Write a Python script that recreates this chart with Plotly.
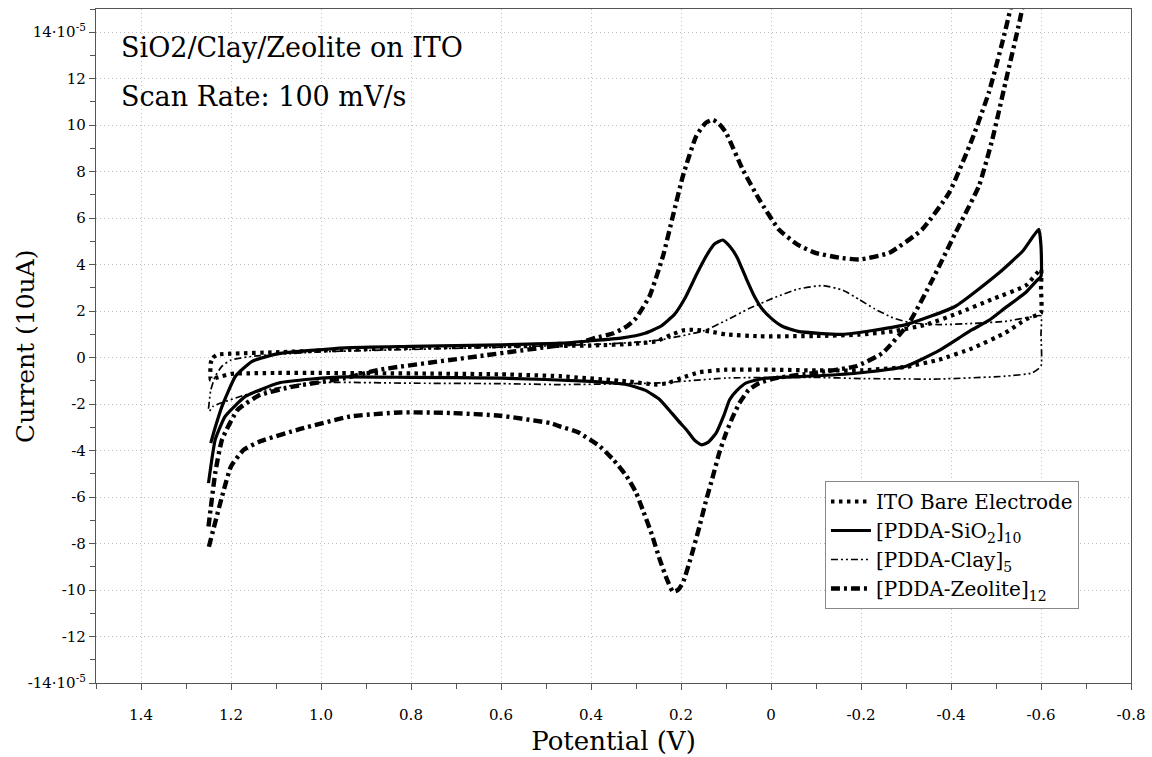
import plotly.graph_objects as go

# ---- data (potential in V, current in units of 1e-5 A) ----
ito_v = [1.245, 1.24, 1.23, 1.2, 1.1, 0.946, 0.8, 0.6, 0.4, 0.3, 0.255, 0.22, 0.195, 0.174, 0.137, 0.1, 0.026,
         -0.1, -0.196, -0.27, -0.345, -0.418, -0.49, -0.566, -0.6,
         -0.6, -0.6, -0.58, -0.566, -0.52, -0.447, -0.373, -0.3, -0.2, -0.1, 0.0, 0.1, 0.159, 0.2, 0.23, 0.255,
         0.32, 0.47, 0.6, 0.8, 1.0, 1.1, 1.2, 1.22, 1.235, 1.245, 1.245]
ito_i = [-0.23, 0.0, 0.13, 0.17, 0.23, 0.34, 0.42, 0.49, 0.52, 0.6, 0.7, 1.0, 1.17, 1.2, 1.13, 1.0, 0.92,
         0.93, 0.99, 1.13, 1.42, 1.93, 2.5, 3.1, 3.8,
         3.0, 1.93, 1.75, 1.64, 1.06, 0.4, -0.09, -0.4, -0.55, -0.55, -0.52, -0.52, -0.63, -0.88, -1.1, -1.16,
         -1.02, -0.8, -0.72, -0.68, -0.66, -0.66, -0.7, -0.8, -0.88, -0.95, -0.23]

sio2_v = [1.245, 1.235, 1.22, 1.19, 1.153, 1.095, 0.946, 0.8, 0.6, 0.47, 0.33, 0.28, 0.245, 0.215, 0.19,
          0.165, 0.14, 0.125, 0.107, 0.09, 0.075, 0.055, 0.037, 0.02, 0.0, -0.025, -0.06, -0.158, -0.3,
          -0.41, -0.507, -0.56, -0.595,
          -0.6, -0.6, -0.59, -0.566, -0.521, -0.484, -0.447, -0.418, -0.373, -0.3, -0.2, -0.107, 0.011,
          0.03, 0.055, 0.075, 0.092, 0.105, 0.122, 0.14, 0.155, 0.17, 0.188, 0.2, 0.22, 0.247, 0.28, 0.32,
          0.4, 0.6, 0.8, 0.946, 1.02, 1.094, 1.168, 1.213, 1.235, 1.25]
sio2_i = [-3.68, -3.0, -2.1, -0.8, -0.16, 0.17, 0.42, 0.48, 0.55, 0.62, 0.85, 1.05, 1.35, 1.85, 2.6,
          3.6, 4.5, 4.9, 5.06, 4.75, 4.3, 3.4, 2.64, 2.1, 1.7, 1.35, 1.13, 1.0, 1.42,
          2.21, 3.65, 4.6, 5.52,
          4.8, 3.5, 3.3, 2.8, 2.15, 1.6, 1.2, 0.85, 0.3, -0.37, -0.65, -0.78, -0.88,
          -0.95, -1.09, -1.4, -1.81, -2.5, -3.25, -3.65, -3.75, -3.55, -3.1, -2.85, -2.4, -1.81, -1.4, -1.16,
          -1.02, -0.88, -0.85, -0.83, -0.92, -1.09, -1.67, -2.53, -3.53, -5.4]

clay_v = [1.25, 1.245, 1.235, 1.22, 1.2, 1.15, 1.0, 0.8, 0.6, 0.45, 0.35, 0.25, 0.15, 0.1, 0.05, -0.01,
          -0.06, -0.115, -0.16, -0.196, -0.23, -0.27, -0.31, -0.373, -0.447, -0.52, -0.58, -0.6,
          -0.6, -0.6, -0.58, -0.52, -0.373, -0.2, -0.1, 0.1, 0.247, 0.47, 0.6, 0.8, 1.02, 1.15,
          1.24, 1.25]
clay_i = [-2.2, -1.4, -0.8, -0.37, -0.1, 0.06, 0.25, 0.35, 0.45, 0.53, 0.6, 0.75, 1.15, 1.6, 2.1, 2.6,
          2.95, 3.1, 2.9, 2.5, 2.1, 1.72, 1.5, 1.42, 1.47, 1.56, 1.76, 1.8,
          1.0, -0.37, -0.66, -0.8, -0.92, -0.9, -0.85, -0.88, -1.09, -1.16, -1.12, -1.1, -1.08, -1.5,
          -2.1, -2.4]

zeo_v = [1.25, 1.235, 1.22, 1.185, 1.135, 1.06, 0.946, 0.87, 0.65, 0.5, 0.425, 0.39, 0.35, 0.32, 0.3,
         0.27, 0.24, 0.218, 0.196, 0.166, 0.145, 0.129, 0.115, 0.1, 0.063, 0.026, -0.018, -0.06, -0.1,
         -0.152, -0.196, -0.263, -0.336, -0.396, -0.447, -0.484, -0.514, -0.532, -0.56, -0.6,
         -0.575, -0.558, -0.521, -0.492, -0.462, -0.41, -0.359, -0.307, -0.248, -0.189, -0.1,
         -0.011, 0.026, 0.05, 0.07, 0.085, 0.1, 0.115, 0.129, 0.145, 0.159, 0.178, 0.196, 0.207, 0.218,
         0.23, 0.247, 0.265, 0.285, 0.3, 0.321, 0.35, 0.38, 0.43,
         0.469, 0.49, 0.602, 0.713, 0.824, 0.935, 1.046, 1.135, 1.172, 1.2, 1.22, 1.25]
zeo_i = [-7.27, -4.96, -3.53, -2.24, -1.6, -1.24, -0.88, -0.52, 0.06, 0.45, 0.65, 0.85, 1.05, 1.35, 1.7,
         2.64, 4.37, 6.09, 7.8, 9.54, 10.1, 10.23, 10.05, 9.68, 8.1, 6.8, 5.5, 4.85, 4.5,
         4.3, 4.22, 4.51, 5.52, 7.1, 9.4, 11.4, 13.56, 15.0, 18.0, 23.0,
         18.0, 15.0, 11.84, 9.4, 7.38, 5.37, 3.36, 1.5, 0.2, -0.37, -0.65,
         -0.88, -1.09, -1.4, -1.95, -2.55, -3.25, -4.1, -5.1, -6.2, -7.27, -8.6, -9.7, -10.0, -10.07,
         -9.6, -8.7, -7.6, -6.55, -5.8, -5.1, -4.4, -3.82, -3.2,
         -2.96, -2.82, -2.5, -2.38, -2.36, -2.53, -3.07, -3.6, -3.97, -4.68, -5.98, -8.2]

series_names = ["ITO Bare Electrode", "[PDDA-SiO<sub>2</sub>]<sub>10</sub>",
                "[PDDA-Clay]<sub>5</sub>", "[PDDA-Zeolite]<sub>12</sub>"]

x_tickvals = [1.4, 1.2, 1.0, 0.8, 0.6, 0.4, 0.2, 0, -0.2, -0.4, -0.6, -0.8]
x_ticktext = ["1.4", "1.2", "1.0", "0.8", "0.6", "0.4", "0.2", "0", "-0.2", "-0.4", "-0.6", "-0.8"]
y_tickvals = [14, 12, 10, 8, 6, 4, 2, 0, -2, -4, -6, -8, -10, -12, -14]
y_ticktext = ["14·10<sup>-5</sup>", "12", "10", "8", "6", "4", "2", "0", "-2", "-4", "-6", "-8",
              "-10", "-12", "-14·10<sup>-5</sup>"]

FONT = "DejaVu Serif"
SM = 0.45

fig = go.Figure()
fig.add_trace(go.Scatter(x=ito_v, y=ito_i, mode="lines", name=series_names[0], legendgroup="a",
                         line=dict(color="black", width=4.2, dash="3.5px,4.5px", shape="spline", smoothing=SM)))
fig.add_trace(go.Scatter(x=sio2_v, y=sio2_i, mode="lines", name=series_names[1], legendgroup="b",
                         line=dict(color="black", width=3.2, shape="spline", smoothing=SM)))
fig.add_trace(go.Scatter(x=clay_v, y=clay_i, mode="lines", name=series_names[2], legendgroup="c",
                         line=dict(color="black", width=1.7, dash="7px,3px,2px,3px,2px,3px",
                                   shape="spline", smoothing=SM)))
fig.add_trace(go.Scatter(x=zeo_v, y=zeo_i, mode="lines", name=series_names[3], legendgroup="d",
                         line=dict(color="black", width=4.4, dash="9px,4px,3px,4px",
                                   shape="spline", smoothing=SM)))

axis_common = dict(
    showline=True, linecolor="#555", linewidth=1.2, mirror=True,
    ticks="outside", ticklen=6, tickcolor="#555", tickwidth=1.2,
    showgrid=True, gridcolor="#bdbdbd", griddash="1px,3px", gridwidth=1,
    zeroline=False, automargin=False,
    tickfont=dict(family=FONT, size=15, color="black"),
)

fig.update_layout(
    width=1152, height=757,
    margin=dict(l=96, r=21, t=9, b=74),
    paper_bgcolor="white", plot_bgcolor="white",
    font=dict(family=FONT, color="black"),
    showlegend=True,
    legend=dict(x=0.7043, y=0.2997, xanchor="left", yanchor="top",
                bgcolor="white", bordercolor="#888", borderwidth=1,
                font=dict(family=FONT, size=20, color="black"),
                itemwidth=40, tracegroupgap=7, traceorder="normal"),
    xaxis=dict(range=[1.5, -0.8], tickvals=x_tickvals, ticktext=x_ticktext,
               ticklabelstandoff=12,
               minor=dict(dtick=0.1, tick0=0, ticklen=5, tickcolor="#555", showgrid=False, ticks="outside"),
               title=dict(text="Potential (V)", font=dict(family=FONT, size=26), standoff=8),
               **axis_common),
    yaxis=dict(range=[-14, 15], tickvals=y_tickvals, ticktext=y_ticktext,
               minor=dict(dtick=1, tick0=0, ticklen=5, tickcolor="#555", showgrid=False, ticks="outside"),
               **axis_common),
    annotations=[
        dict(text="Current (10uA)", xref="paper", yref="paper", x=-0.0686, y=0.5,
             xanchor="center", yanchor="middle", textangle=-90, showarrow=False,
             font=dict(family=FONT, size=25)),
        dict(text="SiO2/Clay/Zeolite on ITO", xref="paper", yref="paper", x=0.022, y=0.943,
             xanchor="left", yanchor="middle", showarrow=False, font=dict(family=FONT, size=27)),
        dict(text="Scan Rate: 100 mV/s", xref="paper", yref="paper", x=0.022, y=0.87,
             xanchor="left", yanchor="middle", showarrow=False, font=dict(family=FONT, size=27)),
    ],
)

fig.write_html("out.html")
